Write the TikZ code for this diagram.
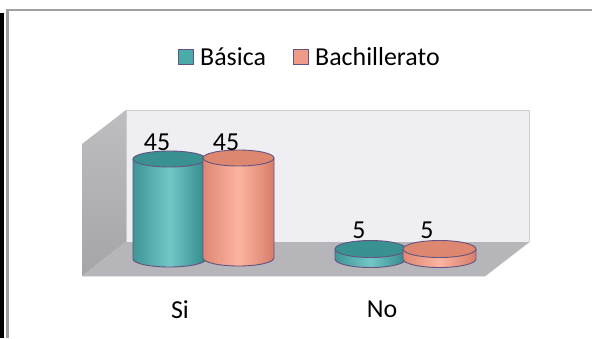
\documentclass[tikz,border=0pt]{standalone}
\usepackage{fontspec}
\setmainfont{Carlito}
\definecolor{tealbody}{RGB}{75,170,170}
\definecolor{tealhi}{RGB}{115,198,198}
\definecolor{tealdk}{RGB}{50,138,140}
\definecolor{tealtop}{RGB}{58,145,145}
\definecolor{salbody}{RGB}{240,155,135}
\definecolor{salhi}{RGB}{252,180,160}
\definecolor{saldk}{RGB}{215,125,105}
\definecolor{saltop}{RGB}{222,135,112}
\definecolor{outl}{RGB}{100,82,128}
\definecolor{wallc}{RGB}{238,238,243}
\definecolor{wallb}{RGB}{205,205,210}
\definecolor{sidec}{RGB}{165,165,168}
\definecolor{sidehi}{RGB}{190,190,193}
\definecolor{floorc}{RGB}{182,182,186}
\definecolor{framec}{RGB}{160,160,160}
\tikzset{
  lbl/.style={font=\fontsize{26}{29}\selectfont, inner sep=0pt},
  legsq/.style={draw=outl, line width=1.4bp, minimum size=15bp, inner sep=0pt},
}
% cylinder: #1 cx, #2 rx, #3 ry, #4 ytop, #5 ybot, #6 dark, #7 hi, #8 top colour
\newcommand{\mycyl}[8]{%
  \shade[left color=#6!80!#7, right color=#6, middle color=#7]
    (#1-#2,#4) -- (#1-#2,#5) arc[start angle=180, end angle=360, x radius=#2, y radius=#3]
    -- (#1+#2,#4) arc[start angle=0, end angle=-180, x radius=#2, y radius=#3] -- cycle;
  \draw[outl, line width=0.9bp]
    (#1-#2,#4) -- (#1-#2,#5) arc[start angle=180, end angle=360, x radius=#2, y radius=#3]
    -- (#1+#2,#4);
  \draw[outl, line width=0.9bp, fill=#8] (#1,#4) ellipse[x radius=#2, y radius=#3];
}
\begin{document}
\begin{tikzpicture}[x=1bp,y=1bp]
\useasboundingbox (0,0) rectangle (592,338);
\fill[white] (0,0) rectangle (592,338);
% outer frame
\draw[black, line width=4bp] (2,0) -- (2,325);
\draw[framec, line width=2.2bp] (7.5,0) -- (7.5,328) -- (593,328);
% chart walls
\fill[wallc] (126,96) rectangle (529,228);
\draw[wallb, line width=0.8bp] (126,96) -- (126,228) -- (529,228) -- (529,96);
\shade[top color=sidehi, bottom color=sidec] (126,228) -- (126,96) -- (82,62) -- (82,194) -- cycle;
\fill[floorc] (126,96) -- (529,96) -- (485,62) -- (82,62) -- cycle;
\draw[sidehi, line width=0.8bp] (82,62) -- (485,62) -- (529,96);
% cylinders
\mycyl{169.5}{36.5}{8}{179}{79}{tealdk}{tealhi}{tealtop}
\mycyl{238.5}{35.5}{8}{180}{80}{saldk}{salhi}{saltop}
\mycyl{370.5}{35.5}{8.5}{89}{79}{tealdk}{tealhi}{tealtop}
\mycyl{439.5}{36.5}{8.5}{89}{79}{saldk}{salhi}{saltop}
% value labels
\node[lbl] (v1) at (157,196) {45};
\node[lbl] (v2) at (226,196) {45};
\node[lbl] (v3) at (359,108) {5};
\node[lbl] (v4) at (427,108) {5};
% category labels
\node[lbl] (cSi) at (180,28) {Si};
\node[lbl] (cNo) at (382,29) {No};
% legend
\node[legsq, fill=tealbody] (sq1) at (186,281) {};
\node[lbl, anchor=base west] (l1) at (200,273) {Básica};
\node[legsq, fill=salbody] (sq2) at (301,281) {};
\node[lbl, anchor=base west] (l2) at (315,273) {Bachillerato};
\end{tikzpicture}
\end{document}
